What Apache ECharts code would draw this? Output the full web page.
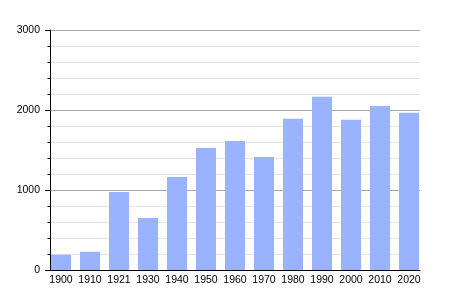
<!DOCTYPE html>
<html>
<head>
<meta charset="utf-8">
<script src="https://cdn.jsdelivr.net/npm/echarts@6/dist/echarts.min.js"></script>
<style>html,body{margin:0;padding:0;background:#fff;}#c{width:450px;height:300px;}</style>
</head>
<body>
<div id="c"></div>
<script>
const categories = ['1900','1910','1921','1930','1940','1950','1960','1970','1980','1990','2000','2010','2020'];
const population = [191, 228, 975, 650, 1162, 1525, 1612, 1412, 1890, 2166, 1878, 2050, 1966];
const yTicks = [0, 1000, 2000, 3000];

const chart = echarts.init(document.getElementById('c'), null, {renderer: 'canvas'});
const font = 'Liberation Sans, Arial, sans-serif';
chart.setOption({
  animation: false,
  backgroundColor: '#ffffff',
  grid: [
    {left: 50, right: 30, top: 30, bottom: 30},
    {left: 46.5, right: 26.5, top: 30, bottom: 30}
  ],
  xAxis: [
    {gridIndex: 0, type: 'category', data: categories,
     axisLine: {show: true, lineStyle: {color: '#000', width: 1}},
     axisTick: {show: false}, axisLabel: {show: false}, splitLine: {show: false}},
    {gridIndex: 1, type: 'category', data: categories,
     axisLine: {show: false}, axisTick: {show: false},
     axisLabel: {show: true, color: '#000', fontSize: 10.5, fontFamily: font, margin: 5, interval: 0}}
  ],
  yAxis: [
    {gridIndex: 0, type: 'value', min: yTicks[0], max: yTicks[yTicks.length - 1], interval: 1000,
     axisLine: {show: true, lineStyle: {color: '#000', width: 1}},
     axisTick: {show: true, length: 5, lineStyle: {color: '#000'}},
     minorTick: {show: true, splitNumber: 5, length: 2.5, lineStyle: {color: '#000'}},
     axisLabel: {color: '#000', fontSize: 10.5, fontFamily: font, margin: 10,
                 formatter: function (v) { return String(v); }},
     splitLine: {show: true, lineStyle: {color: '#a8a8a8', width: 1}},
     minorSplitLine: {show: true, lineStyle: {color: '#e4e4e4', width: 1}}},
    {gridIndex: 1, type: 'value', min: yTicks[0], max: yTicks[yTicks.length - 1], interval: 1000, show: false,
     splitLine: {show: false}}
  ],
  series: [{
    type: 'bar', xAxisIndex: 1, yAxisIndex: 1,
    data: population, barWidth: 20,
    itemStyle: {color: '#99b3ff'}
  }]
});
</script>
</body>
</html>
